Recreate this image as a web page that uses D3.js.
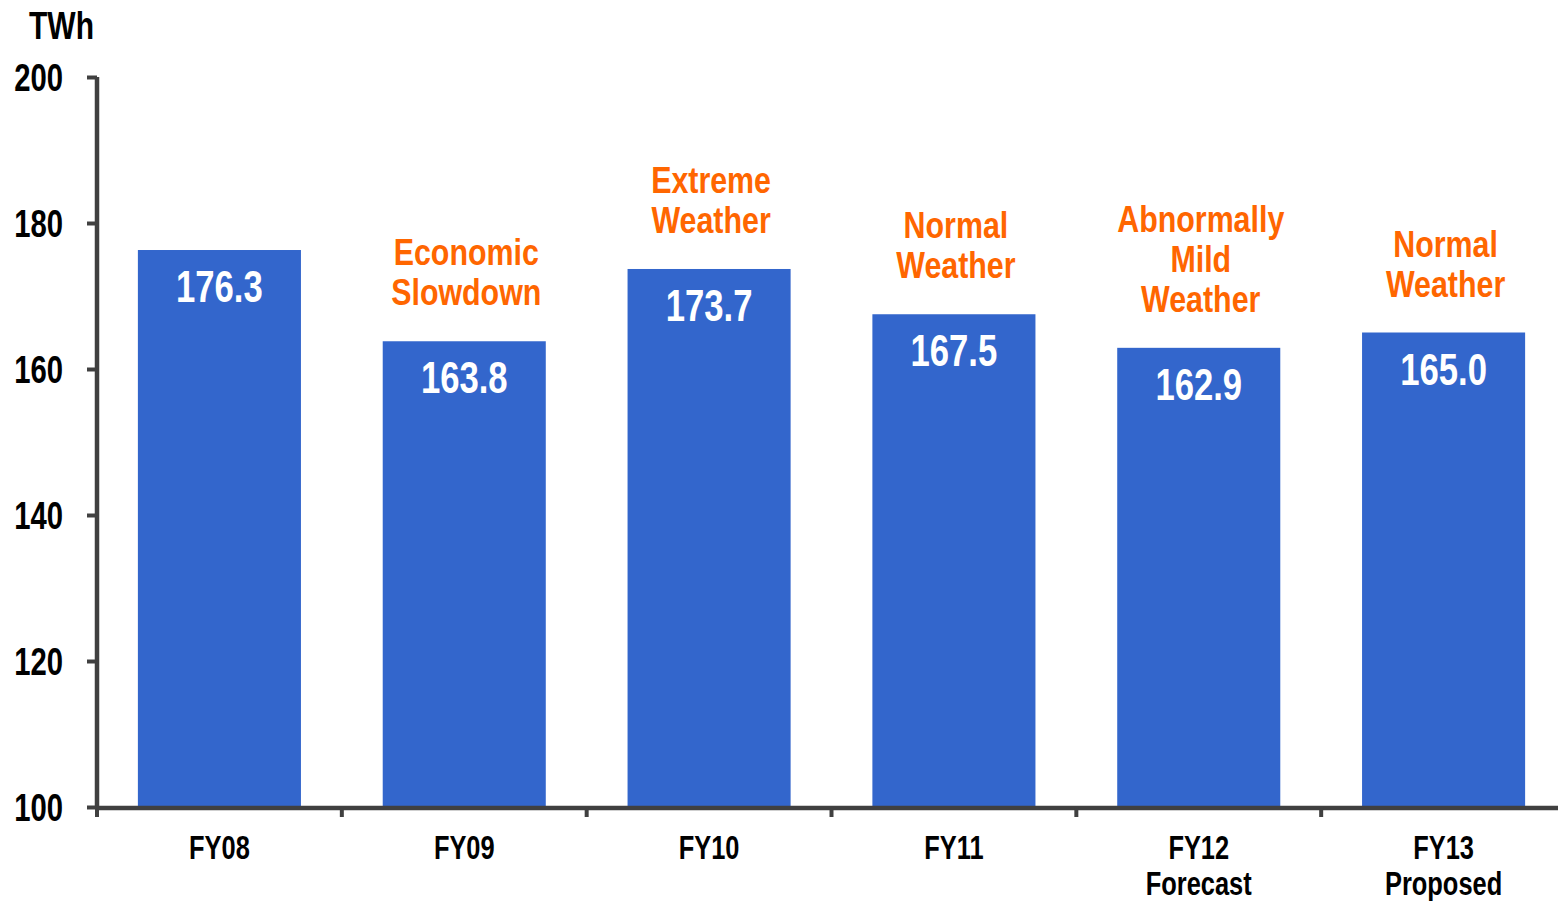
<!DOCTYPE html>
<html>
<head>
<meta charset="utf-8">
<script src="https://cdn.jsdelivr.net/npm/d3@7"></script>
<style>
  html, body { margin: 0; padding: 0; background: #fff; }
  svg { display: block; }
  text { font-family: "Liberation Sans", Arial, sans-serif; font-weight: bold; }
</style>
</head>
<body>
<svg id="chart" width="1558" height="901"></svg>
<script>
// Annual energy sales, TWh
const categories = ["FY08", "FY09", "FY10", "FY11", "FY12", "FY13"];
const subLabels = ["", "", "", "", "Forecast", "Proposed"];
const values = [176.3, 163.8, 173.7, 167.5, 162.9, 165.0];
const notes = [
  [],
  ["Economic", "Slowdown"],
  ["Extreme", "Weather"],
  ["Normal", "Weather"],
  ["Abnormally", "Mild", "Weather"],
  ["Normal", "Weather"]
];
const yTicks = [100, 120, 140, 160, 180, 200];
const unitLabel = "TWh";

const svg = d3.select("#chart");
const axisColor = "#404040";
const barColor = "#3366CC";
const noteColor = "#FF6600";
const narrow = 0.77; // horizontal squeeze for a condensed bold face

// place a condensed text at (px, py)
function condText(parent, px, py, str, size, fill, anchor, squeeze) {
  return parent.append("text")
    .attr("transform", `translate(${px},${py}) scale(${squeeze || narrow},1)`)
    .attr("text-anchor", anchor || "middle")
    .attr("font-size", size)
    .attr("fill", fill)
    .text(str);
}

const x = d3.scaleBand()
  .domain(categories)
  .range([97, 1566])
  .paddingInner(0.334)
  .paddingOuter(0.167);

const y = d3.scaleLinear().domain([100, 200]).range([807, 77]);

// bars
svg.append("g").selectAll("rect")
  .data(values)
  .join("rect")
  .attr("x", (d, i) => x(categories[i]))
  .attr("width", x.bandwidth())
  .attr("y", d => y(d))
  .attr("height", d => y(100) - y(d))
  .attr("fill", barColor);

// value labels inside bars
const valG = svg.append("g");
values.forEach((v, i) => {
  condText(valG, x(categories[i]) + x.bandwidth() / 2, y(v) + 52, v.toFixed(1), 45, "#fff");
});

// annotations above bars
const noteG = svg.append("g");
notes.forEach((lines, i) => {
  const cx = x(categories[i]) + x.bandwidth() / 2 + 2;
  const lastBase = y(values[i]) - 36;
  lines.forEach((ln, j) => {
    condText(noteG, cx, lastBase - (lines.length - 1 - j) * 40, ln, 37.5, noteColor, "middle", 0.81);
  });
});

// y axis
const yAxis = svg.append("g")
  .attr("transform", "translate(97,0)")
  .call(d3.axisLeft(y).tickValues(yTicks).tickSize(10).tickPadding(24).tickFormat(d3.format("d")));
yAxis.attr("font-family", null).attr("font-size", null);
yAxis.select(".domain").attr("stroke", axisColor).attr("stroke-width", 4.5)
  .attr("d", "M0," + y(200) + "V" + (y(100) + 2));
yAxis.selectAll(".tick line").attr("stroke", axisColor).attr("stroke-width", 4);
yAxis.selectAll(".tick text")
  .attr("fill", "#000")
  .attr("font-size", 38)
  .attr("x", -34 / narrow)
  .attr("dy", "0.35em")
  .attr("transform", `scale(${narrow},1)`);

// x axis line and category boundary ticks
const xAxisG = svg.append("g");
xAxisG.append("line")
  .attr("x1", 95).attr("x2", 1558)
  .attr("y1", y(100) + 1).attr("y2", y(100) + 1)
  .attr("stroke", axisColor).attr("stroke-width", 4.5);
xAxisG.selectAll("line.bt")
  .data(categories)
  .join("line")
  .attr("class", "bt")
  .attr("x1", d => x(d) - x.step() * x.paddingOuter())
  .attr("x2", d => x(d) - x.step() * x.paddingOuter())
  .attr("y1", y(100)).attr("y2", y(100) + 10)
  .attr("stroke", axisColor).attr("stroke-width", 4);

// category labels
const catG = svg.append("g");
categories.forEach((c, i) => {
  const cx = x(c) + x.bandwidth() / 2;
  condText(catG, cx, 859, c, 33, "#000");
  if (subLabels[i]) condText(catG, cx, 895, subLabels[i], 33, "#000");
});

// unit label
condText(svg, 29, 39, unitLabel, 39, "#000", "start");
</script>
</body>
</html>
